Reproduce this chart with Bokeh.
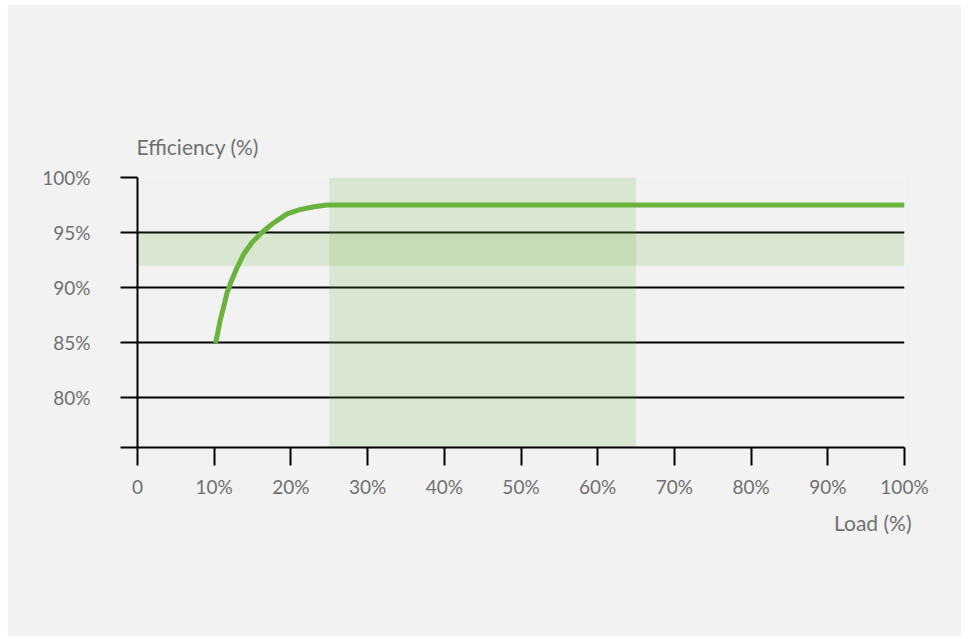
from bokeh.plotting import figure
from bokeh.models import FixedTicker, Range1d, Title
from bokeh.embed import file_html
from bokeh.resources import INLINE

# ---- data ----
load_pct = [10.17, 10.47, 10.82, 11.26, 11.69, 12.26, 13.0, 13.86, 14.95, 16.25,
            17.6, 19.5, 21.25, 23.0, 24.7, 100.0]
efficiency_pct = [84.97, 85.94, 87.15, 88.36, 89.57, 90.64, 91.85, 93.06, 94.12, 95.03,
                  95.8, 96.7, 97.1, 97.35, 97.5, 97.5]

band_load = (25, 65)          # optimal load range (%)
band_eff = (92, 95)           # efficiency band (%)

x_ticks = [0, 10, 20, 30, 40, 50, 60, 70, 80, 90, 100]
x_tick_labels = ["0", "10%", "20%", "30%", "40%", "50%", "60%", "70%", "80%", "90%", "100%"]
y_ticks = [80, 85, 90, 95, 100]
y_tick_labels = ["80%", "85%", "90%", "95%", "100%"]
y_title = "Efficiency (%)"
x_title = "Load (%)"

Y_MIN, Y_MAX = 75.5, 100
FONT = "Lato"
TXT = "#707070"
BG = "#f2f2f2"
GREEN = "#6ab43e"

p = figure(width=954, height=632, output_backend="svg", toolbar_location=None,
           x_range=Range1d(0, 100), y_range=Range1d(Y_MIN, Y_MAX),
           min_border_left=130, min_border_right=57, min_border_top=173, min_border_bottom=189)
p.margin = (4, 0, 0, 7)
p.background_fill_color = BG
p.border_fill_color = BG
p.outline_line_color = None

# shaded bands
p.quad(left=band_load[0], right=band_load[1], bottom=Y_MIN, top=Y_MAX,
       fill_color=GREEN, fill_alpha=0.18, line_color=None)
p.quad(left=0, right=100, bottom=band_eff[0], top=band_eff[1],
       fill_color=GREEN, fill_alpha=0.18, line_color=None)

# efficiency curve
p.line(load_pct, efficiency_pct, line_color=GREEN, line_width=5, line_cap="butt", line_join="round")

# axes
xa = p.xaxis[0]
xa.ticker = FixedTicker(ticks=x_ticks)
xa.major_label_overrides = {t: l for t, l in zip(x_ticks, x_tick_labels)}
ya = p.yaxis[0]
ya.ticker = FixedTicker(ticks=[Y_MIN] + y_ticks)
ov = {t: l for t, l in zip(y_ticks, y_tick_labels)}
ov[Y_MIN] = ""
ya.major_label_overrides = ov

for ax in (xa, ya):
    ax.axis_line_color = "black"
    ax.axis_line_width = 2
    ax.major_tick_line_color = "black"
    ax.major_tick_line_width = 2
    ax.major_tick_in = 0
    ax.minor_tick_line_color = None
    ax.major_label_text_font = FONT
    ax.major_label_text_font_size = "19px"
    ax.major_label_text_color = TXT
xa.major_tick_out = 18
xa.major_label_standoff = 9
ya.major_tick_out = 17
ya.major_label_standoff = 30

# grids
p.ygrid.ticker = FixedTicker(ticks=y_ticks)
p.ygrid.grid_line_color = "black"
p.ygrid.grid_line_width = 2
p.xgrid.ticker = FixedTicker(ticks=[100])
p.xgrid.grid_line_color = "black"
p.xgrid.grid_line_width = 2

# titles
p.add_layout(Title(text=y_title, align="left", offset=-1, standoff=38,
                   text_font=FONT, text_font_size="21px", text_font_style="normal",
                   text_color=TXT), "above")
p.add_layout(Title(text=x_title, align="right", offset=-7, standoff=15,
                   text_font=FONT, text_font_size="21px", text_font_style="normal",
                   text_color=TXT), "below")

open("out.html", "w").write(file_html(p, INLINE))
